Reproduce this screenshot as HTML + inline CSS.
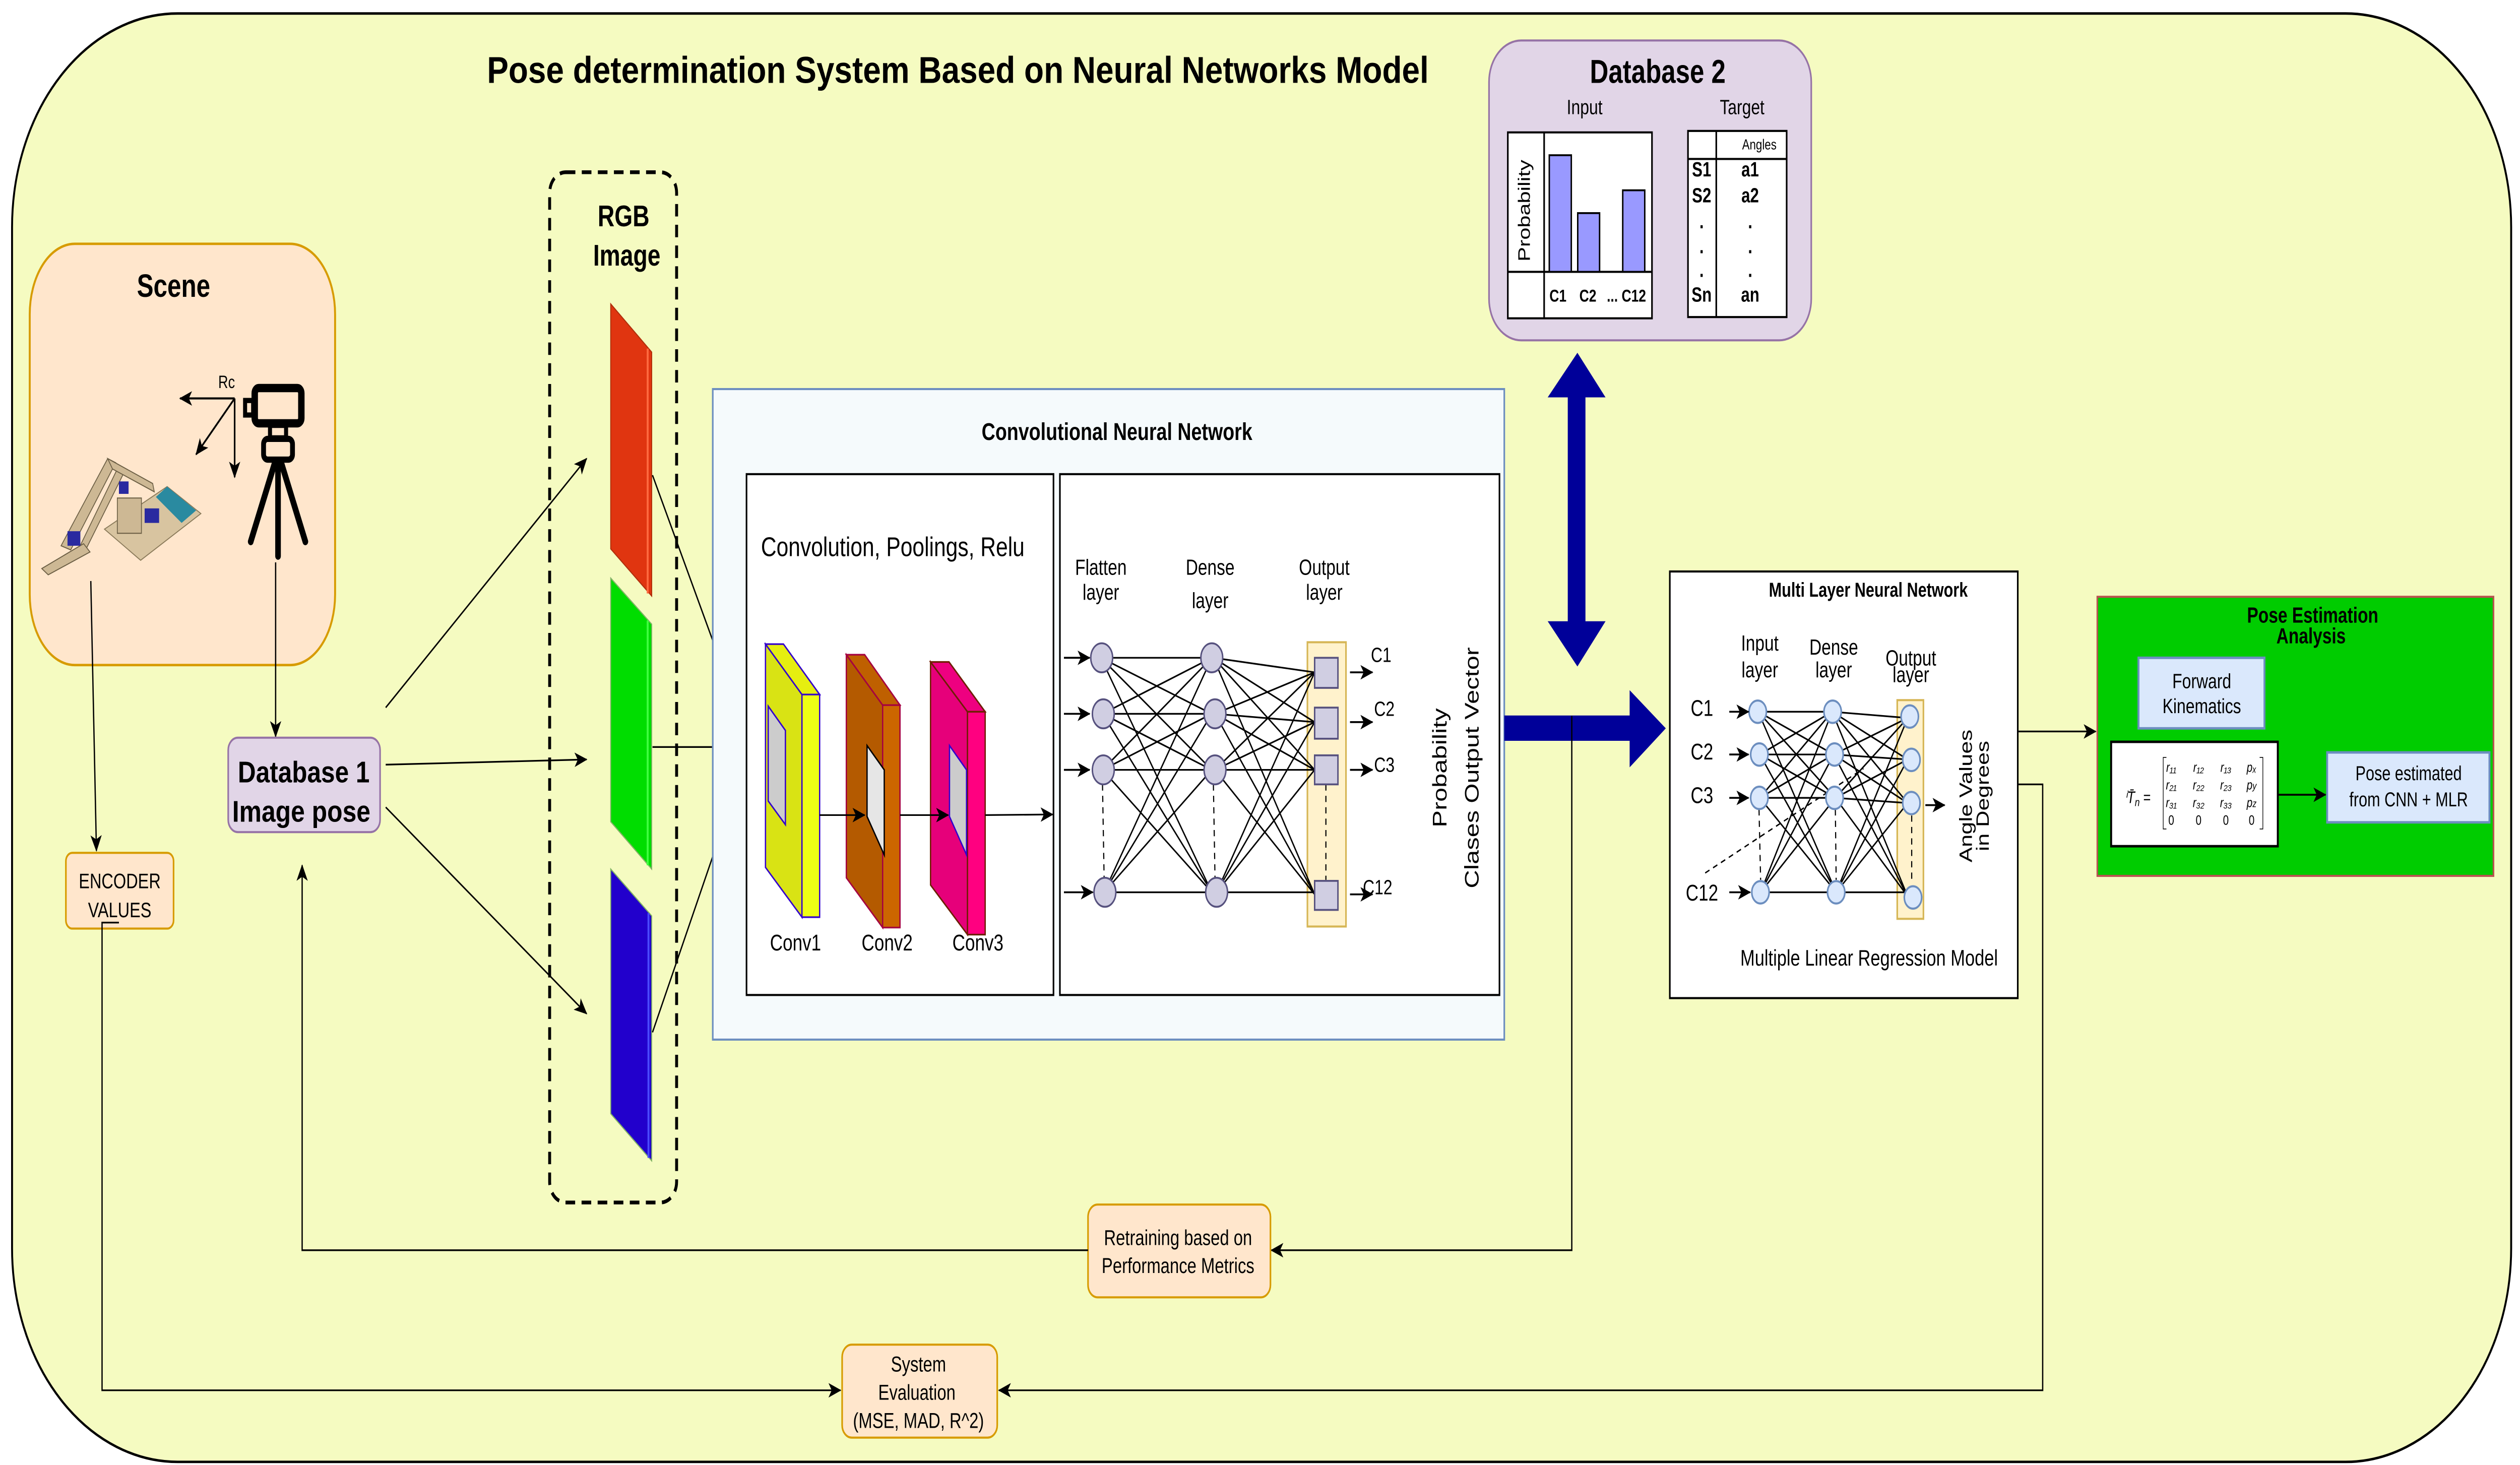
<!DOCTYPE html>
<html><head><meta charset="utf-8">
<style>
html,body{margin:0;padding:0;background:#fff;overflow:hidden;width:100vw;height:100vh;}
svg{display:block;position:fixed;left:0;top:0;width:100vw;height:100vh;}
text{font-family:"Liberation Sans",Arial,sans-serif;}
</style></head>
<body>
<svg viewBox="0 0 1568 706" preserveAspectRatio="none" xmlns="http://www.w3.org/2000/svg">
<defs>
<marker id="ar" markerUnits="userSpaceOnUse" markerWidth="8" markerHeight="8" refX="7.5" refY="4" orient="auto">
<path d="M0,0.5 L8,4 L0,7.5 L2,4 Z" fill="#000"/>
</marker>
</defs>
<rect x="0" y="0" width="1568" height="706" fill="#fff"/>
<rect x="7.5" y="6.5" width="1555" height="698" rx="103" ry="103" fill="#F5FBC1" stroke="#000" stroke-width="1.2"/>
<text x="596" y="40" font-size="18" font-weight="bold" text-anchor="middle" textLength="586" lengthAdjust="spacingAndGlyphs">Pose determination System Based on Neural Networks Model</text>

<rect x="18.5" y="117.5" width="190" height="203" rx="28" ry="34" fill="#FFE6CC" stroke="#D79B00" stroke-width="1.2"/>
<text x="108" y="143" font-size="15.5" font-weight="bold" text-anchor="middle">Scene</text>
<text x="141" y="187" font-size="8.5" text-anchor="middle">Rc</text>
<line x1="146" y1="192" x2="112" y2="192" stroke="#000" stroke-width="1" marker-end="url(#ar)"/>
<line x1="146" y1="192" x2="122" y2="219" stroke="#000" stroke-width="1" marker-end="url(#ar)"/>
<line x1="146" y1="192" x2="146" y2="230" stroke="#000" stroke-width="1" marker-end="url(#ar)"/>
<rect x="158.5" y="187" width="29" height="17" rx="2.5" fill="none" stroke="#000" stroke-width="4"/>
<rect x="152.5" y="193" width="5" height="7" fill="none" stroke="#000" stroke-width="2.5"/>
<rect x="168" y="205" width="10" height="6" fill="none" stroke="#000" stroke-width="2.5"/>
<rect x="164" y="211.5" width="18" height="10" rx="2.5" fill="none" stroke="#000" stroke-width="3"/>
<line x1="171" y1="223" x2="156" y2="261" stroke="#000" stroke-width="3.5" stroke-linecap="round"/>
<line x1="173" y1="223" x2="173" y2="268" stroke="#000" stroke-width="3.5" stroke-linecap="round"/>
<line x1="175" y1="223" x2="190" y2="261" stroke="#000" stroke-width="3.5" stroke-linecap="round"/>
<polygon points="65,255 104,234.5 125,247.5 87.5,270" fill="#D8C4A0" stroke="#8a7a5a" stroke-width="0.5"/>
<polygon points="97,239.5 104,234.5 122,246 113,252" fill="#2a8aa0"/>
<rect x="73" y="240" width="15" height="17" fill="#CDB894" stroke="#6b5e44" stroke-width="0.5"/>
<polygon points="38,263 67,221 72,223 44,265" fill="#CDB894" stroke="#6b5e44" stroke-width="0.5"/>
<polygon points="48,266 73,226 77,228 52,267" fill="#CDB894" stroke="#6b5e44" stroke-width="0.5"/>
<polygon points="67,221 95,233 96,237 70,226" fill="#CDB894" stroke="#6b5e44" stroke-width="0.5"/>
<polygon points="26,274 52,262 56,266 30,277" fill="#CDB894" stroke="#6b5e44" stroke-width="0.5"/>
<rect x="42" y="256" width="8" height="7" fill="#2a2aa0"/>
<rect x="90" y="245" width="9" height="7" fill="#2a2aa0"/>
<rect x="74" y="232" width="6" height="6" fill="#2a2aa0"/>

<line x1="56.5" y1="280" x2="60" y2="410" stroke="#000" stroke-width="0.8" marker-end="url(#ar)"/>
<line x1="171.5" y1="271" x2="171.5" y2="355" stroke="#000" stroke-width="0.8" marker-end="url(#ar)"/>

<rect x="142" y="355.5" width="94.5" height="45.5" rx="6" fill="#E1D5E7" stroke="#9673A6" stroke-width="1"/>
<text x="189" y="377" font-size="14.5" font-weight="bold" text-anchor="middle" textLength="82" lengthAdjust="spacingAndGlyphs">Database 1</text>
<text x="187.5" y="396" font-size="14.5" font-weight="bold" text-anchor="middle" textLength="86" lengthAdjust="spacingAndGlyphs">Image pose</text>

<rect x="41" y="411" width="67" height="36.5" rx="4" fill="#FFE6CC" stroke="#D79B00" stroke-width="1"/>
<text x="74.5" y="428" font-size="10.2" text-anchor="middle">ENCODER</text>
<text x="74.5" y="442" font-size="10.2" text-anchor="middle">VALUES</text>

<rect x="342" y="83" width="79" height="496.5" rx="10" fill="none" stroke="#000" stroke-width="1.8" stroke-dasharray="6,4"/>
<text x="388" y="109" font-size="14.5" font-weight="bold" text-anchor="middle">RGB</text>
<text x="390" y="128" font-size="14.5" font-weight="bold" text-anchor="middle">Image</text>
<polygon points="380,146.5 405.5,169.7 405.5,287.2 380,264.5" fill="#E03510" stroke="#B0300C" stroke-width="0.6"/>
<line x1="403" y1="168" x2="403" y2="286" stroke="#FF6A40" stroke-width="1.2"/>
<polygon points="380,278.6 405.5,300.8 405.5,418.8 380,396" fill="#00DD00" stroke="#82B366" stroke-width="0.6"/>
<line x1="403" y1="299" x2="403" y2="417" stroke="#40FF40" stroke-width="1.2"/>
<polygon points="380,418.8 405.5,441.4 405.5,559.4 380,536.7" fill="#2200CC" stroke="#82B366" stroke-width="0.6"/>
<line x1="403.5" y1="440" x2="403.5" y2="558" stroke="#4a4aff" stroke-width="1.2"/>

<line x1="240" y1="341" x2="365" y2="221" stroke="#000" stroke-width="0.8" marker-end="url(#ar)"/>
<line x1="240" y1="368.5" x2="365" y2="366" stroke="#000" stroke-width="0.8" marker-end="url(#ar)"/>
<line x1="240" y1="389" x2="365" y2="488.5" stroke="#000" stroke-width="0.8" marker-end="url(#ar)"/>
<line x1="406" y1="229" x2="454" y2="331" stroke="#000" stroke-width="0.8" marker-end="url(#ar)"/>
<line x1="406" y1="360" x2="454" y2="360" stroke="#000" stroke-width="0.8" marker-end="url(#ar)"/>
<line x1="406" y1="497.5" x2="454" y2="389" stroke="#000" stroke-width="0.8" marker-end="url(#ar)"/>

<rect x="443.5" y="187.5" width="492.5" height="313.5" fill="#F5FAFC" stroke="#6C8EBF" stroke-width="1"/>
<text x="695" y="212" font-size="11.8" font-weight="bold" text-anchor="middle">Convolutional Neural Network</text>
<rect x="464.5" y="228.5" width="191" height="251" fill="#fff" stroke="#000" stroke-width="1"/>
<rect x="659.5" y="228.5" width="273.5" height="251" fill="#fff" stroke="#000" stroke-width="1"/>
<text x="555.5" y="268" font-size="13" text-anchor="middle" textLength="164" lengthAdjust="spacingAndGlyphs">Convolution, Poolings, Relu</text>

<polygon points="476.3,310.4 499,334.7 499,442 476.3,418" fill="#D9E314" stroke="#3300CC" stroke-width="0.8"/>
<polygon points="476.3,310.4 487.5,310.4 510,334.7 499,334.7" fill="#E6EE10" stroke="#3300CC" stroke-width="0.8"/>
<rect x="499" y="334.7" width="11" height="107.3" fill="#EEFF14" stroke="#3300CC" stroke-width="0.8"/>
<polygon points="478,340.3 488.7,352 488.7,397.4 478,386" fill="#CCCCCC" stroke="#3300CC" stroke-width="0.8"/>
<polygon points="526.6,315.5 549.2,339.8 549.2,447 526.6,423" fill="#B45A00" stroke="#A50040" stroke-width="0.8"/>
<polygon points="526.6,315.5 538,315.5 560,339.8 549.2,339.8" fill="#BF6000" stroke="#A50040" stroke-width="0.8"/>
<rect x="549.2" y="339.8" width="10.8" height="107.2" fill="#CC6600" stroke="#A50040" stroke-width="0.8"/>
<polygon points="539.5,359.3 550.2,371 550.2,412 539.5,393.5" fill="#E6E6E6" stroke="#000" stroke-width="0.8"/>
<polygon points="579,319 602,343 602,450.4 579,426.5" fill="#E6007A" stroke="#6D1F00" stroke-width="0.8"/>
<polygon points="579,319 590.5,319 613,343 602,343" fill="#EE0080" stroke="#6D1F00" stroke-width="0.8"/>
<rect x="602" y="343" width="11" height="107.4" fill="#FF0080" stroke="#6D1F00" stroke-width="0.8"/>
<polygon points="590.8,359.3 601.4,371 601.4,412 590.8,393.5" fill="#CCCCCC" stroke="#3300CC" stroke-width="0.8"/>
<line x1="510" y1="392.8" x2="538" y2="392.8" stroke="#000" stroke-width="0.8" marker-end="url(#ar)"/>
<line x1="560" y1="392.8" x2="590" y2="392.8" stroke="#000" stroke-width="0.8" marker-end="url(#ar)"/>
<line x1="613" y1="392.8" x2="655" y2="392.5" stroke="#000" stroke-width="0.8" marker-end="url(#ar)"/>
<text x="495" y="458" font-size="11" text-anchor="middle">Conv1</text>
<text x="552" y="458" font-size="11" text-anchor="middle">Conv2</text>
<text x="608.5" y="458" font-size="11" text-anchor="middle">Conv3</text>

<text x="685" y="277" font-size="10.5" text-anchor="middle">Flatten</text>
<text x="685" y="289" font-size="10.5" text-anchor="middle">layer</text>
<text x="753" y="277" font-size="10.5" text-anchor="middle">Dense</text>
<text x="753" y="293" font-size="10.5" text-anchor="middle">layer</text>
<text x="824" y="277" font-size="10.5" text-anchor="middle">Output</text>
<text x="824" y="289" font-size="10.5" text-anchor="middle">layer</text>
<rect x="813.5" y="309.5" width="24" height="137" fill="#FFF2CC" stroke="#D6B656" stroke-width="1"/>
<g stroke="#000" stroke-width="0.8">
<line x1="685" y1="317" x2="754" y2="317"/><line x1="685" y1="317" x2="754" y2="344"/><line x1="685" y1="317" x2="754" y2="371"/><line x1="685" y1="317" x2="754" y2="430"/>
<line x1="686" y1="344" x2="754" y2="317"/><line x1="686" y1="344" x2="754" y2="344"/><line x1="686" y1="344" x2="754" y2="371"/><line x1="686" y1="344" x2="754" y2="430"/>
<line x1="686" y1="371" x2="754" y2="317"/><line x1="686" y1="371" x2="754" y2="344"/><line x1="686" y1="371" x2="754" y2="371"/><line x1="686" y1="371" x2="754" y2="430"/>
<line x1="687" y1="430" x2="754" y2="317"/><line x1="687" y1="430" x2="754" y2="344"/><line x1="687" y1="430" x2="754" y2="371"/><line x1="687" y1="430" x2="754" y2="430"/>
<line x1="755" y1="317" x2="818" y2="324"/><line x1="755" y1="317" x2="818" y2="348"/><line x1="755" y1="317" x2="818" y2="371"/><line x1="755" y1="317" x2="818" y2="431"/>
<line x1="756" y1="344" x2="818" y2="324"/><line x1="756" y1="344" x2="818" y2="348"/><line x1="756" y1="344" x2="818" y2="371"/><line x1="756" y1="344" x2="818" y2="431"/>
<line x1="756" y1="371" x2="818" y2="324"/><line x1="756" y1="371" x2="818" y2="348"/><line x1="756" y1="371" x2="818" y2="371"/><line x1="756" y1="371" x2="818" y2="431"/>
<line x1="757" y1="430" x2="818" y2="324"/><line x1="757" y1="430" x2="818" y2="348"/><line x1="757" y1="430" x2="818" y2="371"/><line x1="757" y1="430" x2="818" y2="430"/>
</g>
<g stroke="#000" stroke-width="0.7" stroke-dasharray="3,2.5">
<line x1="686" y1="378" x2="687" y2="423"/><line x1="755" y1="378" x2="756" y2="423"/><line x1="825" y1="378" x2="825" y2="424"/>
</g>
<g fill="#D0CEE2" stroke="#56517E" stroke-width="0.9">
<ellipse cx="685.5" cy="317" rx="6.8" ry="7"/><ellipse cx="686.5" cy="344" rx="6.8" ry="7"/><ellipse cx="686.5" cy="371" rx="6.8" ry="7"/><ellipse cx="687.5" cy="430" rx="6.8" ry="7"/>
<ellipse cx="754" cy="317" rx="6.8" ry="7"/><ellipse cx="756" cy="344" rx="6.8" ry="7"/><ellipse cx="756" cy="371" rx="6.8" ry="7"/><ellipse cx="757" cy="430" rx="6.8" ry="7"/>
<rect x="818" y="317" width="14.5" height="14.5"/><rect x="818" y="341" width="14.5" height="15"/><rect x="818" y="364" width="14.5" height="14"/><rect x="818" y="424.5" width="14.5" height="14"/>
</g>
<g stroke="#000" stroke-width="0.9">
<line x1="662" y1="317" x2="678" y2="317" marker-end="url(#ar)"/>
<line x1="662" y1="344" x2="678" y2="344" marker-end="url(#ar)"/>
<line x1="662" y1="371" x2="678" y2="371" marker-end="url(#ar)"/>
<line x1="662" y1="430" x2="680" y2="430" marker-end="url(#ar)"/>
<line x1="840" y1="324" x2="854" y2="324" marker-end="url(#ar)"/>
<line x1="840" y1="348" x2="854" y2="348" marker-end="url(#ar)"/>
<line x1="840" y1="371" x2="854" y2="371" marker-end="url(#ar)"/>
<line x1="840" y1="431" x2="854" y2="431" marker-end="url(#ar)"/>
</g>
<text x="853" y="319" font-size="10">C1</text>
<text x="855" y="345" font-size="10">C2</text>
<text x="855" y="372" font-size="10">C3</text>
<text x="848" y="431" font-size="10">C12</text>
<text transform="translate(900,370) rotate(-90)" font-size="12.3" text-anchor="middle">Probability</text>
<text transform="translate(920,370) rotate(-90)" font-size="12.3" text-anchor="middle">Clases Output Vector</text>

<rect x="926.5" y="19.5" width="200.5" height="144.5" rx="20" fill="#E1D5E7" stroke="#9673A6" stroke-width="1"/>
<text x="1031.5" y="40" font-size="16" font-weight="bold" text-anchor="middle">Database 2</text>
<text x="986" y="55" font-size="10" text-anchor="middle">Input</text>
<text x="1084" y="55" font-size="10" text-anchor="middle">Target</text>
<rect x="938.2" y="63.8" width="89.7" height="89.6" fill="#fff" stroke="#000" stroke-width="1"/>
<line x1="960.8" y1="63.8" x2="960.8" y2="153.4" stroke="#000" stroke-width="1"/>
<line x1="938.2" y1="131" x2="1027.9" y2="131" stroke="#000" stroke-width="1"/>
<rect x="964" y="74.8" width="13.7" height="56.2" fill="#9999FF" stroke="#000" stroke-width="0.9"/>
<rect x="981.7" y="102.7" width="13.6" height="28.3" fill="#9999FF" stroke="#000" stroke-width="0.9"/>
<rect x="1009.7" y="91.7" width="13.7" height="39.3" fill="#9999FF" stroke="#000" stroke-width="0.9"/>
<text transform="translate(952,101.5) rotate(-90)" font-size="10.5" text-anchor="middle">Probability</text>
<text x="969.4" y="145.4" font-size="8.3" font-weight="bold" text-anchor="middle">C1</text>
<text x="988" y="145.4" font-size="8.3" font-weight="bold" text-anchor="middle">C2</text>
<text x="1012" y="145.4" font-size="8.3" font-weight="bold" text-anchor="middle">... C12</text>
<rect x="1050.3" y="63.1" width="61.4" height="89.7" fill="#fff" stroke="#000" stroke-width="1"/>
<line x1="1067.9" y1="63.1" x2="1067.9" y2="152.8" stroke="#000" stroke-width="1"/>
<line x1="1050.3" y1="76.6" x2="1111.7" y2="76.6" stroke="#000" stroke-width="1"/>
<text x="1094.7" y="72" font-size="7" text-anchor="middle">Angles</text>
<g font-size="9.8" font-weight="bold" text-anchor="middle">
<text x="1058.8" y="85">S1</text><text x="1089" y="85">a1</text>
<text x="1058.8" y="97.5">S2</text><text x="1089" y="97.5">a2</text>
<text x="1058.8" y="110">.</text><text x="1089" y="110">.</text>
<text x="1058.8" y="122">.</text><text x="1089" y="122">.</text>
<text x="1058.8" y="133.5">.</text><text x="1089" y="133.5">.</text>
<text x="1058.8" y="145.3">Sn</text><text x="1089" y="145.3">an</text>
</g>

<polygon points="981.5,170 999,191.5 986.5,191.5 986.5,299.4 999,299.4 981.5,321.2 963,299.4 975.5,299.4 975.5,191.5 963,191.5" fill="#000099"/>
<polygon points="936,344.8 1014,344.8 1014,332.6 1036.5,351 1014,369.8 1014,357 936,357" fill="#000099"/>
<polyline points="978,345 978,602.5 791,602.5" fill="none" stroke="#000" stroke-width="0.8" marker-end="url(#ar)"/>

<rect x="677" y="580.5" width="113.5" height="44.7" rx="6" fill="#FFE6CC" stroke="#D79B00" stroke-width="1"/>
<text x="733" y="600" font-size="10.3" text-anchor="middle">Retraining based on</text>
<text x="733" y="613.5" font-size="10.3" text-anchor="middle">Performance Metrics</text>
<polyline points="677,602.5 188,602.5 188,417" fill="none" stroke="#000" stroke-width="0.8" marker-end="url(#ar)"/>

<rect x="524" y="648" width="96.5" height="44.8" rx="6" fill="#FFE6CC" stroke="#D79B00" stroke-width="1"/>
<text x="571.5" y="661" font-size="10.3" text-anchor="middle">System</text>
<text x="570.5" y="674.6" font-size="10.3" text-anchor="middle">Evaluation</text>
<text x="571.5" y="688.2" font-size="10.3" text-anchor="middle">(MSE, MAD, R^2)</text>
<polyline points="74,444.6 63.5,444.6 63.5,670 523,670" fill="none" stroke="#000" stroke-width="0.8" marker-end="url(#ar)"/>
<polyline points="1255.5,378 1271,378 1271,670 621.5,670" fill="none" stroke="#000" stroke-width="0.8" marker-end="url(#ar)"/>

<rect x="1039" y="275.4" width="216.5" height="205.6" fill="#fff" stroke="#000" stroke-width="1"/>
<text x="1162.5" y="287.5" font-size="9.6" font-weight="bold" text-anchor="middle">Multi Layer Neural Network</text>
<text x="1095" y="313.5" font-size="10.5" text-anchor="middle">Input</text>
<text x="1095" y="326.4" font-size="10.5" text-anchor="middle">layer</text>
<text x="1141" y="315.5" font-size="10.5" text-anchor="middle">Dense</text>
<text x="1141" y="326.4" font-size="10.5" text-anchor="middle">layer</text>
<text x="1189" y="320.7" font-size="10.5" text-anchor="middle">Output</text>
<text x="1189" y="328.7" font-size="10.5" text-anchor="middle">layer</text>
<rect x="1180.5" y="337.4" width="16.3" height="105.4" fill="#FFF2CC" stroke="#D6B656" stroke-width="1"/>
<g stroke="#000" stroke-width="0.8">
<line x1="1094" y1="343" x2="1140" y2="343"/><line x1="1094" y1="343" x2="1141" y2="363.6"/><line x1="1094" y1="343" x2="1142" y2="384.5"/><line x1="1094" y1="343" x2="1142.5" y2="430"/>
<line x1="1095" y1="363.6" x2="1140" y2="343"/><line x1="1095" y1="363.6" x2="1141" y2="363.6"/><line x1="1095" y1="363.6" x2="1142" y2="384.5"/><line x1="1095" y1="363.6" x2="1142.5" y2="430"/>
<line x1="1095" y1="384.5" x2="1140" y2="343"/><line x1="1095" y1="384.5" x2="1141" y2="363.6"/><line x1="1095" y1="384.5" x2="1142" y2="384.5"/><line x1="1095" y1="384.5" x2="1142.5" y2="430"/>
<line x1="1095.5" y1="430" x2="1140" y2="343"/><line x1="1095.5" y1="430" x2="1141" y2="363.6"/><line x1="1095.5" y1="430" x2="1142" y2="384.5"/><line x1="1095.5" y1="430" x2="1142.5" y2="430"/>
<line x1="1140" y1="343" x2="1187" y2="346"/><line x1="1140" y1="343" x2="1187" y2="366"/><line x1="1140" y1="343" x2="1187" y2="387"/><line x1="1140" y1="343" x2="1187" y2="432"/>
<line x1="1141" y1="363.6" x2="1187" y2="346"/><line x1="1141" y1="363.6" x2="1187" y2="366"/><line x1="1141" y1="363.6" x2="1187" y2="387"/><line x1="1141" y1="363.6" x2="1187" y2="432"/>
<line x1="1142" y1="384.5" x2="1187" y2="346"/><line x1="1142" y1="384.5" x2="1187" y2="366"/><line x1="1142" y1="384.5" x2="1187" y2="387"/><line x1="1142" y1="384.5" x2="1187" y2="432"/>
<line x1="1142.5" y1="430" x2="1187" y2="346"/><line x1="1142.5" y1="430" x2="1187" y2="366"/><line x1="1142.5" y1="430" x2="1187" y2="387"/><line x1="1142.5" y1="430" x2="1187" y2="430"/>
</g>
<g stroke="#000" stroke-width="0.7" stroke-dasharray="3,2.5">
<line x1="1094.5" y1="390" x2="1095.5" y2="424"/><line x1="1142" y1="390" x2="1142.5" y2="424"/><line x1="1189.5" y1="393" x2="1189.5" y2="426"/>
<line x1="1061" y1="420.7" x2="1159.5" y2="370.4"/>
</g>
<g fill="#DAE8FC" stroke="#6C8EBF" stroke-width="1">
<circle cx="1093.7" cy="343" r="5.4"/><circle cx="1094.7" cy="363.6" r="5.4"/><circle cx="1094.7" cy="384.5" r="5.4"/><circle cx="1095.4" cy="430" r="5.4"/>
<circle cx="1140.3" cy="343" r="5.4"/><circle cx="1141.5" cy="363.6" r="5.4"/><circle cx="1141.5" cy="384.5" r="5.4"/><circle cx="1142.5" cy="430" r="5.4"/>
<circle cx="1188.3" cy="345.3" r="5.4"/><circle cx="1189.3" cy="366.2" r="5.4"/><circle cx="1189.3" cy="387" r="5.4"/><circle cx="1190.3" cy="432.5" r="5.4"/>
</g>
<g font-size="11" text-anchor="middle">
<text x="1059" y="345">C1</text><text x="1059" y="366">C2</text><text x="1059" y="387">C3</text><text x="1059" y="434">C12</text>
</g>
<g stroke="#000" stroke-width="0.9">
<line x1="1076" y1="343" x2="1088" y2="343" marker-end="url(#ar)"/>
<line x1="1076" y1="363.6" x2="1088" y2="363.6" marker-end="url(#ar)"/>
<line x1="1076" y1="384.5" x2="1088" y2="384.5" marker-end="url(#ar)"/>
<line x1="1076" y1="430" x2="1089" y2="430" marker-end="url(#ar)"/>
<line x1="1198" y1="388" x2="1210" y2="388" marker-end="url(#ar)"/>
</g>
<text transform="translate(1227,383.6) rotate(-90)" font-size="11" text-anchor="middle">Angle Values</text>
<text transform="translate(1237.5,383.6) rotate(-90)" font-size="11" text-anchor="middle">in Degrees</text>
<text x="1163" y="465.3" font-size="10.8" text-anchor="middle">Multiple Linear Regression Model</text>
<line x1="1255.5" y1="352.5" x2="1304" y2="352.5" stroke="#000" stroke-width="0.8" marker-end="url(#ar)"/>

<rect x="1305" y="287.6" width="246.5" height="134.5" fill="#00CC00" stroke="#B85450" stroke-width="1"/>
<text x="1439" y="300" font-size="10.5" font-weight="bold" text-anchor="middle">Pose  Estimation</text>
<text x="1438" y="310" font-size="10.5" font-weight="bold" text-anchor="middle">Analysis</text>
<rect x="1330.6" y="317" width="78.4" height="34" fill="#DAE8FC" stroke="#6C8EBF" stroke-width="1.2"/>
<text x="1370" y="331.6" font-size="10" text-anchor="middle">Forward</text>
<text x="1370" y="343.7" font-size="10" text-anchor="middle">Kinematics</text>
<rect x="1313.6" y="357.5" width="103.7" height="50.3" fill="#fff" stroke="#000" stroke-width="1.2"/>
<text x="1322" y="387" font-size="8" font-family="Liberation Serif,serif" font-style="italic">ⁱT̄<tspan font-size="5.5" dy="1.5">n</tspan><tspan dy="-1.5" font-style="normal"> =</tspan></text>
<path d="M1348,365 L1346,365 L1346,399.5 L1348,399.5 M1406,365 L1408,365 L1408,399.5 L1406,399.5" fill="none" stroke="#000" stroke-width="0.4"/>
<g font-size="6.5" font-family="Liberation Serif,serif" text-anchor="middle" font-style="italic">
<text x="1351" y="372">r₁₁</text><text x="1368" y="372">r₁₂</text><text x="1385" y="372">r₁₃</text><text x="1401" y="372">pₓ</text>
<text x="1351" y="380.5">r₂₁</text><text x="1368" y="380.5">r₂₂</text><text x="1385" y="380.5">r₂₃</text><text x="1401" y="380.5">p<tspan font-size="5">y</tspan></text>
<text x="1351" y="389">r₃₁</text><text x="1368" y="389">r₃₂</text><text x="1385" y="389">r₃₃</text><text x="1401" y="389">p<tspan font-size="5">z</tspan></text>
<text x="1351" y="397.5" font-style="normal">0</text><text x="1368" y="397.5" font-style="normal">0</text><text x="1385" y="397.5" font-style="normal">0</text><text x="1401" y="397.5" font-style="normal">0</text>
</g>
<line x1="1417.3" y1="383" x2="1447" y2="383" stroke="#000" stroke-width="0.9" marker-end="url(#ar)"/>
<rect x="1448" y="362.6" width="101" height="33.7" fill="#DAE8FC" stroke="#6C8EBF" stroke-width="1.2"/>
<text x="1498.7" y="376" font-size="9.6" text-anchor="middle">Pose estimated</text>
<text x="1498.7" y="388.6" font-size="9.6" text-anchor="middle">from CNN + MLR</text>
</svg>
</body></html>
